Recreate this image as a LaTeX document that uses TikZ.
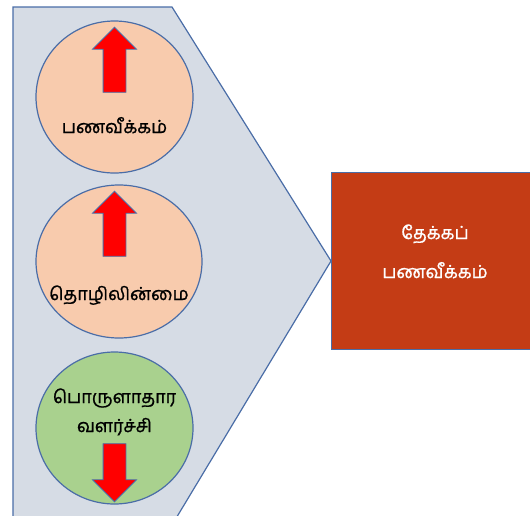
\documentclass[tikz,border=0pt]{standalone}
\usepackage{fontspec}
\newfontfamily\tamil[Script=Tamil,FakeBold=1]{Hind Madurai}
\usetikzlibrary{shapes,arrows,positioning}
\definecolor{panelblue}{HTML}{D6DCE5}
\definecolor{edgeblue}{HTML}{4A6DA7}
\definecolor{peach}{HTML}{F8CBAD}
\definecolor{leaf}{HTML}{A9D18E}
\definecolor{rust}{HTML}{C43C15}
\tikzstyle{panel} = [draw=edgeblue,fill=panelblue,line width=1.2pt]
\tikzstyle{bubble} = [draw=edgeblue,ellipse,line width=1.2pt,inner sep=0,minimum width=157pt,minimum height=152pt]
\tikzstyle{trend} = [single arrow,draw=edgeblue,fill=red,line width=0.8pt,inner xsep=0,inner ysep=11pt,text height=0pt,text depth=0pt,single arrow head extend=10.5pt,single arrow head indent=0pt,minimum height=\al]
\tikzstyle{tag} = [font=\tamil\fontsize{18}{29}\selectfont,align=center,inner sep=0,anchor=base]
\tikzstyle{result} = [draw=edgeblue,fill=rust,line width=1.2pt,minimum width=208pt,minimum height=177pt,anchor=west]
\def \al {65pt}

\begin{document}
\begin{tikzpicture}[x=1pt,y=-1pt]
      \path[use as bounding box,clip] (0,0) rectangle (530,515);
      \coordinate (tip) at (331,261);
      \draw[panel] (13,7) -- (172,7) -- (tip) -- (172,525) -- (13,525) -- cycle;
      \node[bubble,fill=peach] (infl) at (114.5,97) {};
      \node[bubble,fill=peach,minimum width=166pt,minimum height=153pt] (unemp) at (119,261.5) {};
      \node[bubble,fill=leaf] (growth) at (114.5,428) {};
      \node[trend,rotate=90] (influp) at (114.5,65.5) {};
      \node[trend,rotate=90] (unempup) at (114.5,229.5) {};
      \node[trend,rotate=-90,minimum height=58pt] (growthdown) at (114.5,467) {};
      \node[tag] (infltext) at (114.5,133) {பணவீக்கம்};
      \node[tag] (unemptext) at (119,300) {தொழிலின்மை};
      \node[tag] (growthtext) at (114.5,432) {பொருளாதார\\வளர்ச்சி};
      \node[result] (stag) at (tip) {};
      \node[tag,text=white,font=\tamil\fontsize{18}{39}\selectfont] (stagtext) at (435,278) {தேக்கப்\\பணவீக்கம்};
    \end{tikzpicture}
\end{document}
